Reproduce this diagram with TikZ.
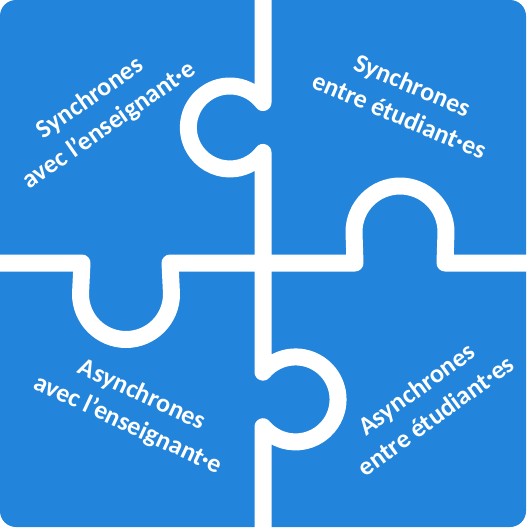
\documentclass[tikz,border=0pt]{standalone}
\usepackage{fontspec}
\setmainfont{Carlito}
\usepackage{tikz}
\usetikzlibrary{positioning}
\definecolor{puzzleblue}{RGB}{34,132,218}

\begin{document}
\begin{tikzpicture}[x=1pt, y=-1pt,
    cut/.style      ={draw=white, line width=17pt, line join=round},
    piecetext/.style={text=white, align=center, inner sep=0pt,
                      font=\fontsize{26}{33}\selectfont\bfseries}]
    \useasboundingbox (0,0) rectangle (527,528);
    \fill[puzzleblue, rounded corners=16pt] (0,0) rectangle (526,527);
    % vertical cut, knob to the left above and to the right below
    \draw[cut] (263,-5) -- (263,102.5)
        arc[start angle=-37, end angle=-323, radius=41.5]
        -- (263,372.1)
        arc[start angle=220, end angle=500, radius=42.5]
        -- (263,533);
    % horizontal cut, knob down on the left and up on the right
    \draw[cut] (-5,263) -- (82,263) -- (80.5,294)
        arc[start angle=180, end angle=0, radius=45.5]
        -- (170,263) -- (355,263) -- (354,232)
        arc[start angle=180, end angle=360, radius=46]
        -- (445,263) -- (532,263);
    \node[piecetext, rotate=35]  (sa) at (100,112) {Synchrones\\avec l’enseignant·e};
    \node[piecetext, rotate=-23] (se) at (406,100) {Synchrones\\entre étudiant·es};
    \node[piecetext, rotate=-25] (aa) at (135,410) {Asynchrones\\avec l’enseignant·e};
    \node[piecetext, rotate=36]  (ae) at (426,402) {Asynchrones\\entre étudiant·es};
\end{tikzpicture}
\end{document}
